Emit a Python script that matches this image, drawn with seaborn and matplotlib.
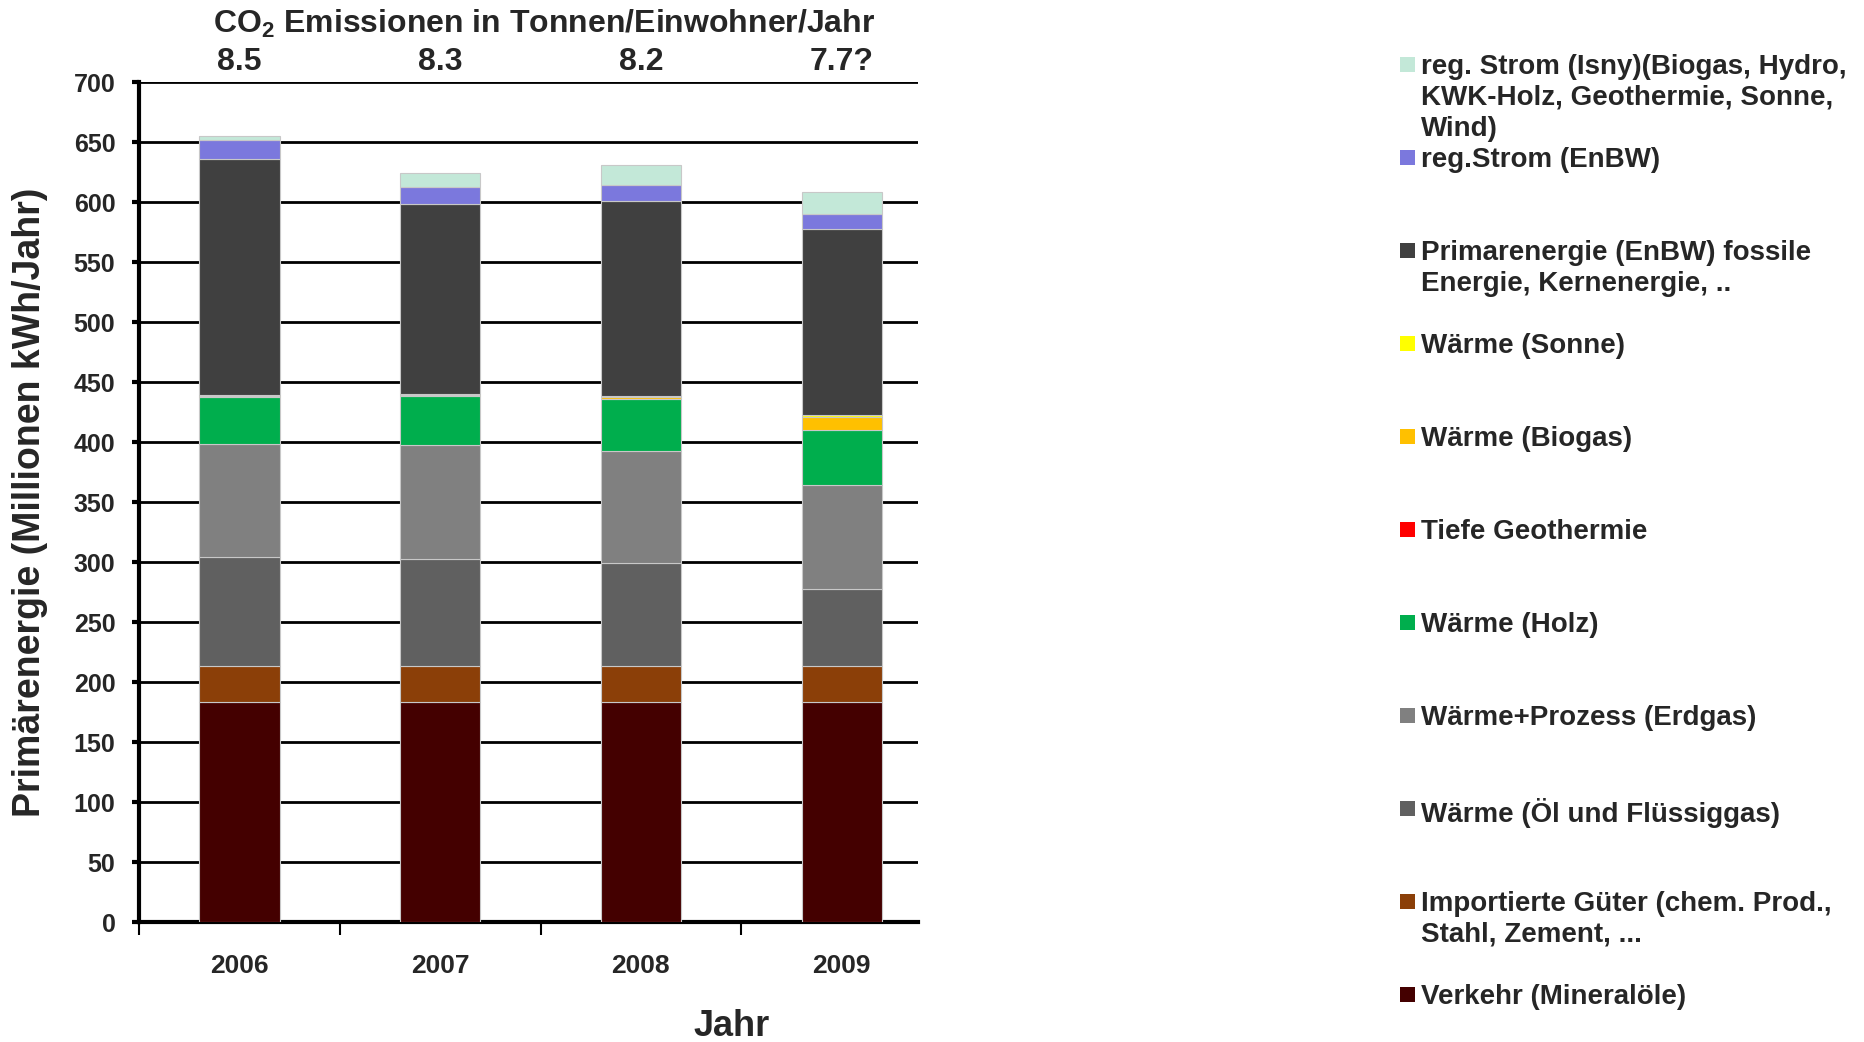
import numpy as np
import matplotlib
matplotlib.use('Agg')
import matplotlib.pyplot as plt
from matplotlib.patches import Rectangle
from matplotlib.ticker import FixedLocator
import seaborn as sns

# Daten (Millionen kWh/Jahr)
jahre = ['2006', '2007', '2008', '2009']
co2_werte = ['8.5', '8.3', '8.2', '7.7?']

verkehr = [183.5, 183.5, 183.0, 183.0]
importe = [30.2, 30.2, 30.2, 30.2]
oel_gas = [90.2, 89.0, 85.7, 64.0]
erdgas = [94.4, 94.5, 93.7, 86.9]
holz = [39.3, 41.0, 43.1, 45.5]
geothermie = [0.0, 0.0, 0.0, 0.0]
biogas = [0.7, 0.7, 1.5, 11.4]
sonne = [1.0, 1.2, 1.5, 1.1]
primaer = [196.8, 158.3, 162.5, 155.8]
strom_enbw = [15.3, 13.9, 13.0, 12.2]
strom_isny = [3.6, 11.7, 16.4, 18.6]

# Reihenfolge von unten nach oben
reihen = [verkehr, importe, oel_gas, erdgas, holz, geothermie,
          biogas, sonne, primaer, strom_enbw, strom_isny]
namen = [
    'Verkehr (Mineralöle)',
    'Importierte Güter (chem. Prod.,\nStahl, Zement, ...',
    'Wärme (Öl und Flüssiggas)',
    'Wärme+Prozess (Erdgas)',
    'Wärme (Holz)',
    'Tiefe Geothermie',
    'Wärme (Biogas)',
    'Wärme (Sonne)',
    'Primarenergie (EnBW) fossile\nEnergie, Kernenergie, ..',
    'reg.Strom (EnBW)',
    'reg. Strom (Isny)(Biogas, Hydro,\nKWK-Holz, Geothermie, Sonne,\nWind)',
]
farben = ['#440000', '#8b3f08', '#606060', '#808080', '#00ae4d', '#ff0000',
          '#ffc000', '#ffff00', '#404040', '#7b78dd', '#c3e8d8']

sns.set_theme(style='white')
plt.rcParams['font.family'] = ['Liberation Sans', 'DejaVu Sans']
plt.rcParams['font.weight'] = 'bold'
plt.rcParams['mathtext.default'] = 'regular'

W, H = 1865, 1042
fig = plt.figure(figsize=(W / 100, H / 100), dpi=100)
ax = fig.add_axes([139 / W, 1 - 922 / H, 779 / W, 840 / H])

# Gestapelte Balken
unten = np.zeros(len(jahre))
for werte, farbe in zip(reihen, farben):
    werte = np.array(werte, dtype=float)
    lw = 0.8 if werte.sum() > 0 else 0
    sns.barplot(x=jahre, y=werte, bottom=unten, color=farbe, width=0.4,
                saturation=1, errorbar=None, edgecolor='#c8c8c8',
                linewidth=lw, ax=ax, zorder=3)
    unten += werte

ax.set_xlim(-0.5, 3.38)
ax.set_ylim(0, 700)
ax.set_yticks(np.arange(0, 701, 50))
ax.yaxis.grid(True, color='black', linewidth=2)
ax.xaxis.grid(False)
ax.set_axisbelow(True)

for s in ['top', 'right']:
    ax.spines[s].set_visible(False)
for s in ['left', 'bottom']:
    ax.spines[s].set_color('black')
    ax.spines[s].set_linewidth(3)

ax.tick_params(axis='y', which='major', left=True, length=5, width=3,
               color='black', pad=12, labelsize=18)
ax.tick_params(axis='x', which='major', bottom=True, length=0, pad=23,
               labelsize=19)
ax.xaxis.set_minor_locator(FixedLocator([-0.5, 0.5, 1.5, 2.5]))
ax.tick_params(axis='x', which='minor', bottom=True, length=9, width=1.5,
               color='black')
for lab in ax.get_xticklabels() + ax.get_yticklabels():
    lab.set_fontweight('bold')
ax.set_xlabel('')
ax.set_ylabel('')

# Titel und CO2-Werte
fig.text(544 / W, 1 - 24 / H, 'CO$_2$ Emissionen in Tonnen/Einwohner/Jahr',
         ha='center', va='center', fontsize=23, fontweight='bold')
for i, wert in enumerate(co2_werte):
    ax.text(i, 717, wert, ha='center', va='center', fontsize=23,
            fontweight='bold', clip_on=False)

fig.text(30 / W, 1 - 502 / H, 'Primärenergie (Millionen kWh/Jahr)',
         rotation=90, ha='center', va='center', fontsize=27, fontweight='bold')
fig.text(732 / W, 1 - 1027 / H, 'Jahr', ha='center', va='center',
         fontsize=26, fontweight='bold')

# Legende (von oben nach unten)
for i, (name, farbe) in enumerate(zip(namen[::-1], farben[::-1])):
    yc = 64.8 + i * 93.0
    fig.add_artist(Rectangle((1400 / W, 1 - (yc + 7.5) / H), 15 / W, 15 / H,
                             transform=fig.transFigure, facecolor=farbe,
                             edgecolor='none'))
    fig.text(1421 / W, 1 - (yc - 11) / H, name, ha='left', va='top',
             fontsize=20, fontweight='bold', linespacing=1.25)

fig.savefig('out.png', dpi=100, facecolor='white')
